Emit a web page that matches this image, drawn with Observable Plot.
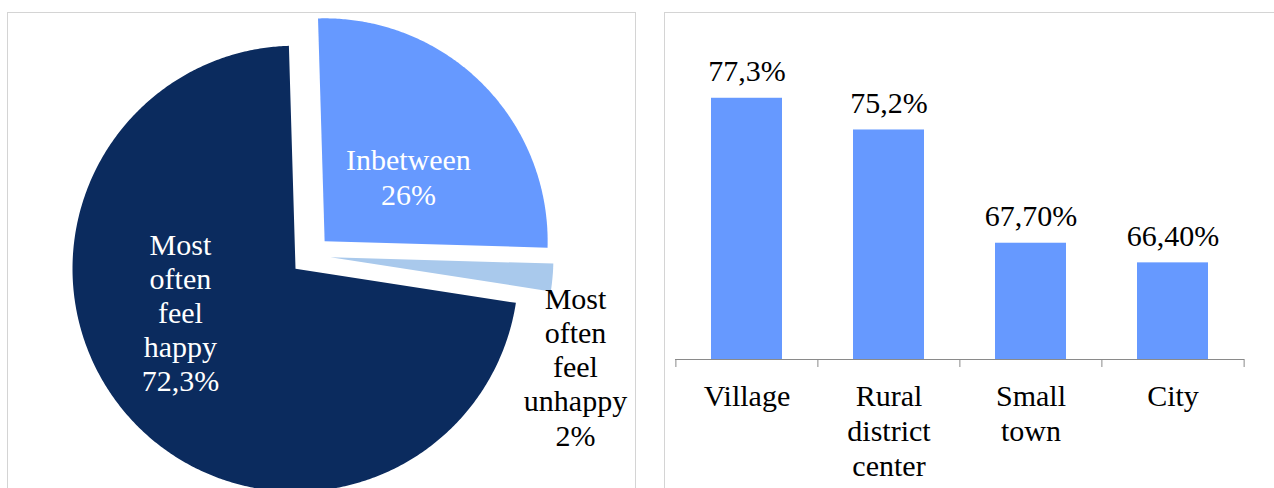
<!DOCTYPE html>
<html><head><meta charset="utf-8">
<script src="https://cdn.jsdelivr.net/npm/d3@7"></script>
<script src="https://cdn.jsdelivr.net/npm/@observablehq/plot@0.6"></script>
<style>
html,body{margin:0;padding:0;background:#fff;overflow:hidden;width:1274px;height:488px}
#wrap{position:relative;width:1274px;height:488px;overflow:hidden;background:#fff}
.panel{position:absolute;border:1px solid #d4d4d4;box-sizing:border-box}
#pieBox{left:7px;top:12px;width:629px;height:540px}
#barBox{left:664px;top:12px;width:660px;height:540px}
.plot{position:absolute;top:0}
.plot svg{display:block;overflow:visible}
.plot text{font-family:"Liberation Serif","Times New Roman",serif !important}
</style></head><body>
<div id="wrap">
<div class="panel" id="pieBox"></div>
<div class="panel" id="barBox"></div>
<div class="plot" id="pie" style="left:0"></div>
<div class="plot" id="bar" style="left:640px"></div>
</div>
<script>
// ---- data ----
const pieNames = ["Inbetween", "Most often feel unhappy", "Most often feel happy"];
const pieValues = [26, 2, 72.3];
const pieLabels = ["Inbetween\n26%", "Most\noften\nfeel\nunhappy\n2%", "Most\noften\nfeel\nhappy\n72,3%"];
const pieColors = ["#6699ff", "#a9c9ec", "#0b2b5e"];

const barCategories = ["Village", "Rural district center", "Small town", "City"];
const barValues = [77.3, 75.2, 67.7, 66.4];
const barValueLabels = ["77,3%", "75,2%", "67,70%", "66,40%"];
const barTickLabels = ["Village", "Rural\ndistrict\ncenter", "Small\ntown", "City"];

// ---- layout ----
const FONT = "'Liberation Serif', 'Times New Roman', serif";
const FS = 30;
const H = 488;
// pie
const W1 = 650, R = 223, CX = 310, CY = 255;
const rot = -1.7 * Math.PI / 180;
const explode = 20 / R;
const labelPlacement = [ // [angle deg clockwise from top, distance in radii, text colour]
  [51.1, 0.564, "white"],
  [112.7, 1.288, "black"],
  [246.5, 0.636, "white"]
];

const pieRows = pieNames.map((name, i) => ({name, value: pieValues[i], label: pieLabels[i]}));
const arcs = d3.pie().sort(null).value(d => d.value).startAngle(rot).endAngle(rot + 2 * Math.PI)(pieRows);
const piePts = [];
arcs.forEach(a => {
  const name = a.data.name;
  const mid = (a.startAngle + a.endAngle) / 2;
  const ox = explode * Math.sin(mid), oy = explode * Math.cos(mid);
  piePts.push({name, x: ox, y: oy});
  const n = Math.max(4, Math.ceil((a.endAngle - a.startAngle) / (Math.PI / 360)));
  for (let k = 0; k <= n; k++) {
    const t = a.startAngle + (a.endAngle - a.startAngle) * k / n;
    piePts.push({name, x: ox + Math.sin(t), y: oy + Math.cos(t)});
  }
});
const pieLabelRows = pieRows.map((d, i) => {
  const [ang, dist, col] = labelPlacement[i];
  const t = ang * Math.PI / 180;
  return {label: d.label, x: dist * Math.sin(t), y: dist * Math.cos(t), col};
});

const piePlot = Plot.plot({
  width: W1, height: H, margin: 0,
  x: {domain: [-CX / R, (W1 - CX) / R], range: [0, W1], axis: null},
  y: {domain: [-(H - CY) / R, CY / R], range: [H, 0], axis: null},
  color: {domain: pieNames, range: pieColors},
  style: {background: "transparent", fontFamily: FONT},
  marks: [
    Plot.line(piePts, {x: "x", y: "y", z: "name", fill: "name", stroke: "none"}),
    Plot.text(pieLabelRows, {filter: d => d.col === "white", x: "x", y: "y", text: "label", fill: "white",
      fontFamily: FONT, fontSize: FS, lineHeight: 1.14, lineAnchor: "middle", textAnchor: "middle"}),
    Plot.text(pieLabelRows, {filter: d => d.col === "black", x: "x", y: "y", text: "label", fill: "black",
      fontFamily: FONT, fontSize: FS, lineHeight: 1.14, lineAnchor: "middle", textAnchor: "middle"})
  ]
});
document.getElementById("pie").append(piePlot);

// bar
const W2 = 634, ML = 35, MR = 30, MT = 57, MB = 129;
const yMin = 60, yMax = 80;
const pxPerUnit = (H - MT - MB) / (yMax - yMin);
const step = (W2 - ML - MR) / barCategories.length;
const barRows = barCategories.map((c, i) => ({cat: c, value: barValues[i], label: barValueLabels[i], tick: barTickLabels[i]}));

const barPlot = Plot.plot({
  width: W2, height: H, marginLeft: ML, marginRight: MR, marginTop: MT, marginBottom: MB,
  x: {domain: barCategories, paddingInner: 0.5, paddingOuter: 0.25, axis: null},
  y: {domain: [yMin, yMax], axis: null},
  style: {background: "transparent", fontFamily: FONT},
  marks: [
    Plot.barY(barRows, {x: "cat", y1: d => yMin, y2: "value", fill: "#6699ff"}),
    Plot.ruleY([yMin], {stroke: "#8a8a8a"}),
    Plot.ruleX(barCategories, {x: d => d, dx: -step / 2, y1: d => yMin, y2: d => yMin - 8 / pxPerUnit, stroke: "#8a8a8a"}),
    Plot.ruleX(barCategories.slice(-1), {x: d => d, dx: step / 2, y1: d => yMin, y2: d => yMin - 8 / pxPerUnit, stroke: "#8a8a8a"}),
    Plot.text(barRows, {x: "cat", y: "value", text: "label", lineAnchor: "bottom", dy: -17,
      fontFamily: FONT, fontSize: FS, fill: "black"}),
    Plot.text(barRows, {x: "cat", y: d => yMin, text: "tick", lineAnchor: "top", dy: 21, lineHeight: 1.18,
      fontFamily: FONT, fontSize: FS, fill: "black"})
  ]
});
document.getElementById("bar").append(barPlot);
</script>
</body></html>
